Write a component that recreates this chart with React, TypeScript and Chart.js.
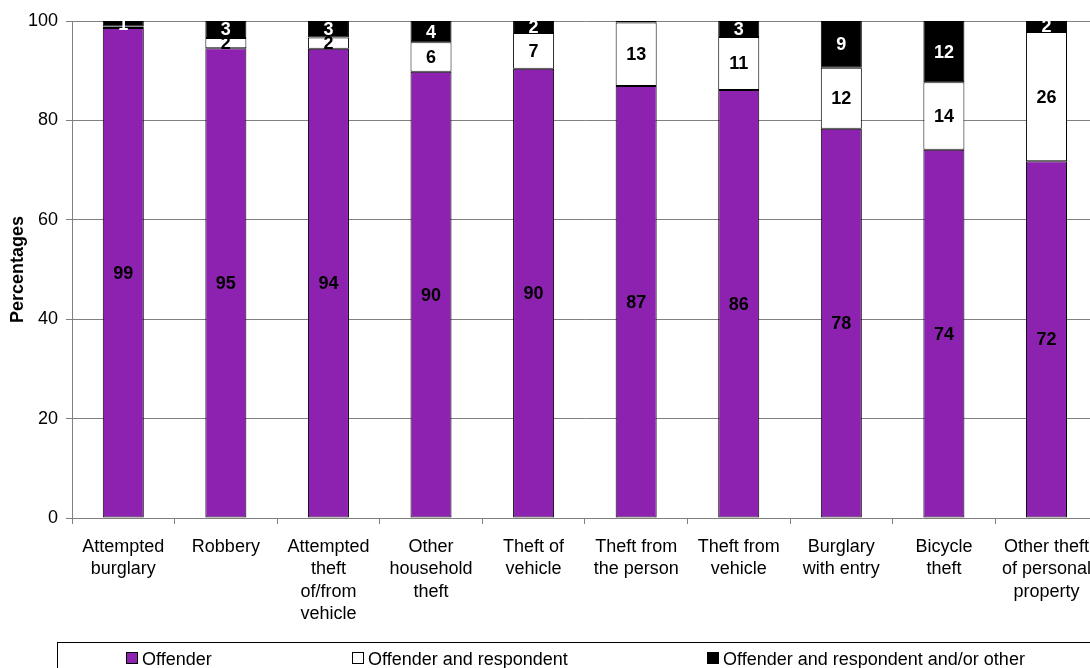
import React, { useEffect, useRef } from "react";
import { Chart, registerables } from "chart.js";

Chart.register(...registerables);

const categories: string[][] = [
  ["Attempted", "burglary"],
  ["Robbery"],
  ["Attempted", "theft", "of/from", "vehicle"],
  ["Other", "household", "theft"],
  ["Theft of", "vehicle"],
  ["Theft from", "the person"],
  ["Theft from", "vehicle"],
  ["Burglary", "with entry"],
  ["Bicycle", "theft"],
  ["Other theft", "of personal", "property"],
];

const offender = [98.6, 94.5, 94.4, 89.8, 90.4, 86.9, 86.1, 78.3, 74.1, 71.8];
const offenderAndRespondent = [0.3, 2.1, 2.3, 5.9, 7.2, 12.8, 10.7, 12.3, 13.6, 26.0];
const offenderRespondentOther = [1.1, 3.4, 3.3, 4.3, 2.4, 0.3, 3.2, 9.4, 12.3, 2.2];

const seriesNames = ["Offender", "Offender and respondent", "Offender and respondent and/or other"];
const seriesColors = ["#8E22B0", "#FFFFFF", "#000000"];
const labelColors = ["#000000", "#000000", "#FFFFFF"];
const yTicks = [0, 20, 40, 60, 80, 100];

const FONT = "'Liberation Sans', Arial, sans-serif";

const barLabelsPlugin = {
  id: "barLabels",
  afterDatasetsDraw(chart: any) {
    const ctx = chart.ctx;
    ctx.save();
    ctx.font = `bold 18px ${FONT}`;
    ctx.textAlign = "center";
    ctx.textBaseline = "middle";
    chart.data.datasets.forEach((ds: any, di: number) => {
      const meta = chart.getDatasetMeta(di);
      meta.data.forEach((el: any, i: number) => {
        const v = Math.round(ds.data[i]);
        if (v === 0) return;
        const p = el.getProps(["x", "y", "base"], true);
        ctx.fillStyle = labelColors[di];
        ctx.fillText(String(v), p.x, (p.y + p.base) / 2 + 1);
      });
    });
    ctx.restore();
  },
};

const legendPlugin = {
  id: "boxLegend",
  afterDraw(chart: any) {
    const ctx = chart.ctx;
    ctx.save();
    ctx.strokeStyle = "#000";
    ctx.lineWidth = 1;
    ctx.strokeRect(57.5, 642.5, 1100, 60);
    const boxes = [126, 352, 707];
    ctx.font = `18px ${FONT}`;
    ctx.textBaseline = "alphabetic";
    ctx.textAlign = "left";
    seriesNames.forEach((name, i) => {
      const x = boxes[i];
      ctx.fillStyle = seriesColors[i];
      ctx.fillRect(x, 652, 12, 12);
      ctx.strokeStyle = "#000";
      ctx.strokeRect(x + 0.5, 652.5, 11, 11);
      ctx.fillStyle = "#000";
      ctx.fillText(name, x + 16, 665);
    });
    ctx.restore();
  },
};

export default function App() {
  const ref = useRef<HTMLCanvasElement>(null);
  useEffect(() => {
    if (!ref.current) return;
    const chart = new Chart(ref.current, {
      type: "bar",
      data: {
        labels: categories,
        datasets: [offender, offenderAndRespondent, offenderRespondentOther].map((d, i) => ({
          label: seriesNames[i],
          data: d,
          backgroundColor: seriesColors[i],
          borderColor: "#000",
          borderWidth: 1,
          borderSkipped: false,
          barPercentage: 0.4,
          categoryPercentage: 1,
        })),
      },
      options: {
        responsive: false,
        animation: false,
        layout: { padding: { top: 21, right: 0, left: 0, bottom: 0 } },
        plugins: {
          legend: { display: false },
          tooltip: { enabled: false },
        },
        scales: {
          x: {
            stacked: true,
            afterFit: (s: any) => {
              s.height = 150;
            },
            grid: {
              offset: true,
              drawOnChartArea: false,
              drawTicks: true,
              tickLength: 6,
              color: "#808080",
            },
            border: { color: "#808080" },
            ticks: {
              color: "#000",
              font: { family: FONT, size: 18, lineHeight: 1.24 },
              maxRotation: 0,
              autoSkip: false,
              padding: 12,
            },
          },
          y: {
            stacked: true,
            min: 0,
            max: 100,
            afterBuildTicks: (s: any) => {
              s.ticks = yTicks.map((v) => ({ value: v }));
            },
            afterFit: (s: any) => {
              s.width = 72;
            },
            grid: { color: "#808080", tickLength: 6 },
            border: { color: "#808080" },
            ticks: {
              color: "#000",
              font: { family: FONT, size: 18 },
              padding: 8,
            },
            title: {
              display: true,
              text: "Percentages",
              color: "#000",
              font: { family: FONT, size: 18, weight: "bold" },
              padding: { top: 7, bottom: 0 },
            },
          },
        },
      },
      plugins: [barLabelsPlugin, legendPlugin],
    });
    return () => chart.destroy();
  }, []);
  return (
    <div style={{ position: "fixed", left: 0, top: 0, width: 1090, height: 668, overflow: "hidden", background: "#fff" }}>
      <canvas ref={ref} width={1103} height={668} />
    </div>
  );
}
